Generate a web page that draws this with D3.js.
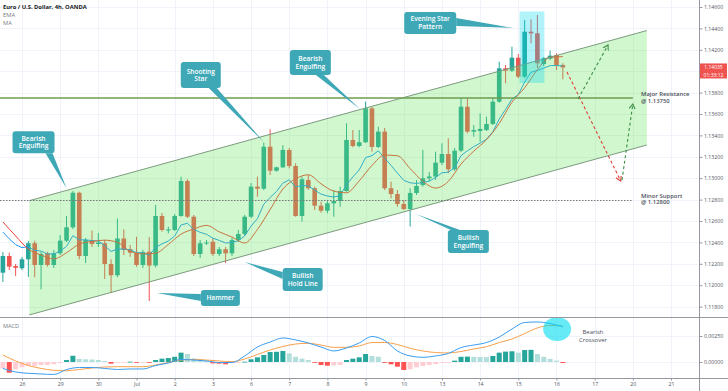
<!DOCTYPE html>
<html>
<head>
<meta charset="utf-8">
<script src="https://d3js.org/d3.v7.min.js"></script>
<style>
body{margin:0;background:#fff}
svg{display:block}
text{font-family:"Open Sans",sans-serif}
</style>
</head>
<body>
<div id="chart"></div>
<script>
// EUR/USD 4h candles (index 0 = first visible bar)
var opens=[1.12117,1.12273,1.12179,1.12158,1.12242,1.12392,1.12189,1.12298,1.12189,1.12298,
1.12416,1.12541,1.12864,1.12273,1.12422,1.12385,1.12392,1.12198,1.12093,1.12436,
1.12336,1.12304,1.12189,1.12313,1.12184,1.12647,1.12511,1.12516,1.12647,1.12974,
1.12640,1.12292,1.12390,1.12407,1.12292,1.12336,1.12298,1.12422,1.12478,1.12640,
1.12921,1.12902,1.13294,1.13070,1.13102,1.13264,1.13114,1.12647,1.12983,1.12906,
1.12743,1.12696,1.12765,1.12787,1.12880,1.13357,1.13301,1.13336,1.13653,1.13292,
1.13435,1.12906,1.12852,1.12759,1.12712,1.12862,1.12936,1.12999,1.13016,1.13145,
1.13226,1.13083,1.13257,1.13668,1.13435,1.13441,1.13450,1.13507,1.13715,1.14027,
1.14005,1.14126,1.13949,1.14369,1.14354,1.14067,1.14117,1.14151,1.14058];
var highs=[1.12310,1.12304,1.12198,1.12264,1.12413,1.12416,1.12313,1.12313,1.12329,1.12469,
1.12647,1.12880,1.12874,1.12441,1.12511,1.12488,1.12422,1.12242,1.12623,1.12521,
1.12376,1.12453,1.12329,1.12450,1.12750,1.12675,1.12547,1.12665,1.13014,1.12990,
1.12656,1.12422,1.12422,1.12441,1.12357,1.12357,1.12441,1.12516,1.12656,1.12955,
1.13014,1.13332,1.13457,1.13107,1.13310,1.13282,1.13139,1.13014,1.13030,1.12921,
1.12780,1.12796,1.12890,1.12921,1.13513,1.13450,1.13450,1.13715,1.13668,1.13481,
1.13469,1.12967,1.12890,1.12796,1.12906,1.12983,1.13264,1.13058,1.13248,1.13326,
1.13373,1.13282,1.13750,1.13747,1.13497,1.13607,1.13575,1.13747,1.14089,1.14058,
1.14229,1.14161,1.14479,1.14485,1.14525,1.14133,1.14192,1.14167,1.14074];
var lows=[1.12030,1.12142,1.12086,1.12142,1.12077,1.12074,1.11962,1.12173,1.12161,1.12282,
1.12404,1.12525,1.12242,1.12207,1.12357,1.12357,1.12058,1.11927,1.12074,1.12282,
1.12266,1.12173,1.12161,1.11852,1.12167,1.12500,1.12485,1.12506,1.12640,1.12628,
1.12273,1.12254,1.12376,1.12273,1.12273,1.12207,1.12273,1.12404,1.12460,1.12628,
1.12827,1.12890,1.13030,1.13061,1.13095,1.13092,1.12640,1.12593,1.12890,1.12703,
1.12678,1.12672,1.12640,1.12734,1.12874,1.13289,1.13289,1.13329,1.13248,1.13282,
1.12890,1.12812,1.12734,1.12703,1.12549,1.12843,1.12921,1.12974,1.12983,1.13123,
1.13046,1.13067,1.13245,1.13420,1.13388,1.13341,1.13441,1.13497,1.13706,1.13887,
1.13993,1.13936,1.13936,1.14261,1.14030,1.14049,1.14105,1.14011,1.13924];
var closes=[1.12273,1.12173,1.12163,1.12242,1.12392,1.12189,1.12292,1.12189,1.12298,1.12416,
1.12541,1.12864,1.12273,1.12422,1.12385,1.12399,1.12198,1.12093,1.12436,1.12329,
1.12304,1.12189,1.12310,1.12184,1.12647,1.12516,1.12521,1.12647,1.12974,1.12640,
1.12292,1.12392,1.12399,1.12292,1.12336,1.12298,1.12422,1.12478,1.12640,1.12921,
1.12902,1.13294,1.13070,1.13102,1.13264,1.13114,1.12647,1.12990,1.12906,1.12743,
1.12696,1.12765,1.12787,1.12880,1.13357,1.13301,1.13336,1.13653,1.13292,1.13435,
1.12906,1.12852,1.12759,1.12712,1.12862,1.12927,1.12999,1.13016,1.13145,1.13226,
1.13083,1.13257,1.13668,1.13435,1.13450,1.13460,1.13507,1.13715,1.14027,1.14005,
1.14126,1.13949,1.14369,1.14354,1.14074,1.14121,1.14145,1.14058,1.14035];

// EMA one value per bar, MA one value every 2 bars
var emaVals=[1.12497,1.12433,1.12379,1.12351,1.12360,1.12325,1.12319,1.12292,1.12293,1.12318,
1.12363,1.12463,1.12424,1.12424,1.12417,1.12413,1.12370,1.12315,1.12339,1.12337,
1.12331,1.12303,1.12304,1.12280,1.12353,1.12386,1.12413,1.12460,1.12563,1.12579,
1.12521,1.12494,1.12476,1.12439,1.12419,1.12394,1.12400,1.12416,1.12461,1.12552,
1.12622,1.12757,1.12820,1.12876,1.12953,1.12985,1.12918,1.12932,1.12927,1.12890,
1.12851,1.12834,1.12824,1.12836,1.12940,1.13012,1.13077,1.13192,1.13211,1.13256,
1.13186,1.13120,1.13048,1.12980,1.12957,1.12951,1.12961,1.12972,1.13007,1.13050,
1.13057,1.13097,1.13211,1.13256,1.13295,1.13328,1.13364,1.13434,1.13552,1.13643,
1.13739,1.13781,1.13899,1.13990,1.14007,1.14029,1.14052,1.14053,1.14050];
var maVals=[1.12591,1.12460,1.12338,1.12282,1.12246,1.12303,1.12384,1.12409,1.12421,1.12401,
1.12316,1.12293,1.12299,1.12381,1.12477,1.12525,1.12559,1.12499,1.12450,1.12394,
1.12521,1.12707,1.12899,1.12994,1.13032,1.12948,1.12879,1.12864,1.12975,1.13119,
1.13216,1.13210,1.13090,1.12971,1.12908,1.12970,1.13132,1.13253,1.13359,1.13511,
1.13710,1.13845,1.14014,1.14130,1.14136];

// MACD pane: lines every 2 bars, histogram per bar
var macdVals=[-0.00062,-0.00096,-0.00109,-0.00115,-0.00120,-0.00072,-0.00053,-0.00053,-0.00062,-0.00072,
-0.00067,-0.00067,-0.00034,-0.00010,0.00024,0.00019,0.00010,-0.00005,-0.00005,0.00058,
0.00144,0.00192,0.00231,0.00212,0.00183,0.00144,0.00106,0.00135,0.00183,0.00245,
0.00207,0.00106,0.00058,0.00045,0.00058,0.00082,0.00139,0.00163,0.00187,0.00240,
0.00317,0.00380,0.00385,0.00370,0.00339];
var signalVals=[0.00067,0.00010,-0.00034,-0.00062,-0.00080,-0.00084,-0.00072,-0.00058,-0.00048,-0.00045,
-0.00045,-0.00045,-0.00029,-0.00005,0.00019,0.00024,0.00019,0.00010,0.00003,0.00029,
0.00072,0.00115,0.00149,0.00173,0.00180,0.00163,0.00141,0.00141,0.00154,0.00187,
0.00187,0.00168,0.00132,0.00106,0.00091,0.00087,0.00101,0.00125,0.00147,0.00187,
0.00221,0.00274,0.00327,0.00351,0.00346];
var histVals=[-0.00061,-0.00103,-0.00070,-0.00051,-0.00038,-0.00038,-0.00029,-0.00029,-0.00022,-0.00010,
0.00019,0.00060,0.00029,0.00026,0.00024,0.00019,0.00010,-0.00016,-0.00005,-0.00003,
0.00003,-0.00006,-0.00002,-0.00006,0.00019,0.00032,0.00038,0.00050,0.00090,0.00077,
0.00035,0.00026,0.00013,-0.00013,-0.00016,-0.00022,-0.00010,-0.00005,0.00003,0.00026,
0.00045,0.00067,0.00096,0.00098,0.00106,0.00083,0.00050,0.00032,0.00019,-0.00006,
-0.00029,-0.00035,-0.00032,-0.00029,0.00019,0.00032,0.00045,0.00077,0.00058,0.00050,
-0.00005,-0.00022,-0.00045,-0.00077,-0.00070,-0.00051,-0.00038,-0.00029,-0.00020,-0.00010,
-0.00006,0.00013,0.00050,0.00052,0.00050,0.00048,0.00046,0.00058,0.00090,0.00100,
0.00103,0.00090,0.00115,0.00117,0.00077,0.00050,0.00030,0.00013,-0.00010];

var dayLabels=['26','29','30','Jul','2','3','6','7','8','9','10','13','14','15','16','17','20','21'];
// 1.14000 sits under the last-price tag, so it is not listed
var priceTicks=[1.118,1.120,1.122,1.124,1.126,1.128,1.130,1.132,1.134,1.136,1.138,1.142,1.144,1.146];
var macdTicks=[0,0.0025];

// drawn levels / channel / projections (bar index, price)
var levels=[1.1375,1.128];
var channelIdx=[4.15,101.2], channelTop=[1.12790,1.14380], channelBot=[1.11722,1.13310];
var starIdx=[81.2,85.1], starPrice=[1.14558,1.13890];

var W=728,H=391,axisX=699.5,mainBot=317.5,macdTop=317.5,macdBot=378.5;
var x=d3.scaleLinear().domain([0,109]).range([2.9,2.9+6.363*109]);
var y=d3.scaleLinear().domain([1.118,1.146]).range([306.6,7]);
var ym=d3.scaleLinear().domain([0,0.0025]).range([362,336]);

var up='#26a69a',down='#ef5350',call='#3fa8b7',txt='#4a4f5c';
var n=closes.length;
var dayIdx=dayLabels.map(function(d,k){return 3+6*k;});

var svg=d3.select('#chart').append('svg').attr('width',W).attr('height',H);
var defs=svg.append('defs');
defs.append('clipPath').attr('id','cm').append('rect').attr('x',0).attr('y',0).attr('width',axisX).attr('height',mainBot);
defs.append('clipPath').attr('id','cd').append('rect').attr('x',0).attr('y',macdTop).attr('width',axisX).attr('height',macdBot-macdTop);
[['ar','#e0413a'],['ag','#3f8f45']].forEach(function(m){
    defs.append('marker').attr('id',m[0]).attr('markerUnits','userSpaceOnUse')
        .attr('markerWidth',8).attr('markerHeight',8).attr('refX',5).attr('refY',3).attr('orient','auto')
        .append('path').attr('d','M0,0L5,3L0,6').attr('fill','none').attr('stroke',m[1]).attr('stroke-width',1.1);
});

// grid
var grid=svg.append('g').attr('stroke','#f0f3fa').attr('stroke-width',1);
grid.selectAll('.gh').data(priceTicks.concat([1.140])).enter().append('line')
    .attr('x1',0).attr('x2',axisX).attr('y1',d=>Math.round(y(d))+0.5).attr('y2',d=>Math.round(y(d))+0.5);
grid.selectAll('.gm').data(macdTicks).enter().append('line')
    .attr('x1',0).attr('x2',axisX).attr('y1',d=>Math.round(ym(d))+0.5).attr('y2',d=>Math.round(ym(d))+0.5);
grid.selectAll('.gv').data(dayIdx).enter().append('line')
    .attr('x1',d=>Math.round(x(d))+0.5).attr('x2',d=>Math.round(x(d))+0.5).attr('y1',0).attr('y2',macdBot);

// main pane
var main=svg.append('g').attr('clip-path','url(#cm)');
var bars=d3.range(n);
main.selectAll('.wick').data(bars).enter().append('line')
    .attr('x1',i=>x(i)).attr('x2',i=>x(i)).attr('y1',i=>y(highs[i])).attr('y2',i=>y(lows[i]))
    .attr('stroke',i=>closes[i]>=opens[i]?up:down).attr('stroke-width',1);
main.selectAll('.body').data(bars).enter().append('rect')
    .attr('x',i=>x(i)-2.3).attr('width',4.6)
    .attr('y',i=>y(Math.max(opens[i],closes[i])))
    .attr('height',i=>Math.max(1,Math.abs(y(opens[i])-y(closes[i]))))
    .attr('fill',i=>closes[i]>=opens[i]?up:down);

var lineEma=d3.line().x((d,i)=>x(i)).y(d=>y(d));
var lineMa=d3.line().x((d,i)=>x(i*2)).y(d=>y(d)).curve(d3.curveMonotoneX);
main.append('path').attr('d',lineEma(emaVals)).attr('fill','none').attr('stroke','#2196f3').attr('stroke-width',1);
main.append('path').attr('d',lineMa(maVals)).attr('fill','none').attr('stroke','#f44336').attr('stroke-width',1);

// channel overlay
var chPts=[[channelIdx[0],channelTop[0]],[channelIdx[1],channelTop[1]],[channelIdx[1],channelBot[1]],[channelIdx[0],channelBot[0]]];
main.append('path').attr('d','M'+chPts.map(p=>x(p[0])+','+y(p[1])).join('L')+'Z')
    .attr('fill','rgba(100,230,90,0.3)');
main.append('line').attr('x1',x(channelIdx[0])).attr('x2',x(channelIdx[1])).attr('y1',y(channelTop[0])).attr('y2',y(channelTop[1]))
    .attr('stroke','#7d9a7f').attr('stroke-width',1);
main.append('line').attr('x1',x(channelIdx[0])).attr('x2',x(channelIdx[1])).attr('y1',y(channelBot[0])).attr('y2',y(channelBot[1]))
    .attr('stroke','#7d9a7f').attr('stroke-width',1);

// evening star box
main.append('rect').attr('x',x(starIdx[0])).attr('y',y(starPrice[0]))
    .attr('width',x(starIdx[1])-x(starIdx[0])).attr('height',y(starPrice[1])-y(starPrice[0]))
    .attr('fill','rgba(0,215,240,0.3)');

// levels
main.append('line').attr('x1',0).attr('x2',x(99)).attr('y1',y(levels[0])).attr('y2',y(levels[0]))
    .attr('stroke','#6c9d4f').attr('stroke-width',1.5);
main.append('line').attr('x1',0).attr('x2',x(99)).attr('y1',Math.round(y(levels[1]))+0.5).attr('y2',Math.round(y(levels[1]))+0.5)
    .attr('stroke','#777').attr('stroke-width',1).attr('stroke-dasharray','1.5,1.5');

// projected path
var proj=[
    {c:'#e0413a',m:'ar',p:[[88.65,1.13993],[97.1,1.12974]]},
    {c:'#3f8f45',m:'ag',p:[[90.4,1.13741],[95.1,1.14245]]},
    {c:'#3f8f45',m:'ag',p:[[97.3,1.12983],[99.0,1.13694]]}
];
proj.forEach(function(a){
    main.append('line').attr('x1',x(a.p[0][0])).attr('y1',y(a.p[0][1])).attr('x2',x(a.p[1][0])).attr('y2',y(a.p[1][1]))
        .attr('stroke',a.c).attr('stroke-width',1.1).attr('stroke-dasharray','3,2.5').attr('marker-end','url(#'+a.m+')');
});

// callouts: tip at bar index/price, box offset from tip
var callouts=[
    {t:['Bearish','Engulfing'],i:10.0,p:1.12906,dx:-54,dy:-57,w:42,h:22,b:[[33,22],[40,22]]},
    {t:['Shooting','Star'],i:41.0,p:1.13338,dx:-83,dy:-80,w:40,h:26,b:[[28,26],[36,26]]},
    {t:['Bearish','Engulfing'],i:56.1,p:1.13647,dx:-70,dy:-59,w:41,h:25,b:[[26,25],[34,25]]},
    {t:['Evening Star','Pattern'],i:80.2,p:1.14404,dx:-109,dy:-16,w:52,h:22,b:[[52,6],[52,14]]},
    {t:['Bullish','Engulfing'],i:64.9,p:1.12665,dx:32,dy:16,w:41,h:23,b:[[3,0],[12,0]]},
    {t:['Bullish','Hold Line'],i:38.0,p:1.12217,dx:38,dy:6,w:40,h:23,b:[[0,4],[0,11]]},
    {t:['Hammer'],i:24.2,p:1.11927,dx:44,dy:-3,w:39,h:16,b:[[0,4],[0,11]]}
];
var cg=svg.append('g');
callouts.forEach(function(c){
    var tx=x(c.i),ty=y(c.p),bx=tx+c.dx,by=ty+c.dy;
    cg.append('path').attr('d','M'+(bx+c.b[0][0])+','+(by+c.b[0][1])+'L'+tx+','+ty+'L'+(bx+c.b[1][0])+','+(by+c.b[1][1])+'Z')
        .attr('fill',call);
    cg.append('rect').attr('x',bx).attr('y',by).attr('width',c.w).attr('height',c.h).attr('rx',3).attr('fill',call);
    var t=cg.append('text').attr('fill','#fff').attr('font-size',6.6).attr('font-weight',600).attr('text-anchor','middle');
    c.t.forEach(function(s,k){
        t.append('tspan').attr('x',bx+c.w/2).attr('y',by+c.h/2+(k-(c.t.length-1)/2)*7.6+2.3).text(s);
    });
});

// level labels
function twoLines(xp,yp,a,b){
    var t=svg.append('text').attr('fill',txt).attr('font-size',5.9).attr('font-weight',600);
    t.append('tspan').attr('x',xp).attr('y',yp).text(a);
    t.append('tspan').attr('x',xp).attr('y',yp+6.6).text(b);
}
twoLines(641,y(levels[0])-1.8,'Major Resistance','@ 1.13750');
twoLines(641,y(levels[1])-1.8,'Minor Support','@ 1.12800');

// MACD pane
var md=svg.append('g').attr('clip-path','url(#cd)');
md.selectAll('.hb').data(histVals).enter().append('rect')
    .attr('x',(d,i)=>x(i)-2.5).attr('width',5)
    .attr('y',d=>d>=0?ym(d):ym(0)).attr('height',d=>Math.max(0.8,Math.abs(ym(d)-ym(0))))
    .attr('fill',function(d,i){
        var pv=i>0?histVals[i-1]:d;
        if(d>=0) return d>=pv?'#26a69a':'#b2dfdb';
        return d<pv?'#ff5252':'#ffcdd2';
    });
var lineM=d3.line().x((d,i)=>x(i*2)).y(d=>ym(d)).curve(d3.curveMonotoneX);
md.append('path').attr('d',lineM(signalVals)).attr('fill','none').attr('stroke','#f7a04b').attr('stroke-width',1);
md.append('path').attr('d',lineM(macdVals)).attr('fill','none').attr('stroke','#3a9cf0').attr('stroke-width',1);
md.append('ellipse').attr('cx',x(87.1)).attr('cy',ym(0.00317)).attr('rx',14).attr('ry',12)
    .attr('fill','rgba(0,222,240,0.6)');
var bc=svg.append('text').attr('fill',txt).attr('font-size',6).attr('text-anchor','middle');
bc.append('tspan').attr('x',593).attr('y',334.3).text('Bearish');
bc.append('tspan').attr('x',593).attr('y',341.6).text('Crossover');
svg.append('text').attr('x',3).attr('y',327.5).attr('fill','#787b86').attr('font-size',5.6).text('MACD');

// pane borders
svg.append('line').attr('x1',0).attr('x2',W).attr('y1',mainBot).attr('y2',mainBot).attr('stroke','#9598a1');
svg.append('line').attr('x1',0).attr('x2',W).attr('y1',macdBot).attr('y2',macdBot).attr('stroke','#9598a1');
svg.append('line').attr('x1',axisX).attr('x2',axisX).attr('y1',0).attr('y2',H).attr('stroke','#9598a1');

// axes
var yAxis=d3.axisRight(y).tickValues(priceTicks).tickFormat(d3.format('.5f')).tickSize(3).tickPadding(1.5);
var ga=svg.append('g').attr('transform','translate('+axisX+',0)').call(yAxis);
var mAxis=d3.axisRight(ym).tickValues(macdTicks).tickFormat(d3.format('.5f')).tickSize(3).tickPadding(1.5);
var gm=svg.append('g').attr('transform','translate('+axisX+',0)').call(mAxis);
var xAxis=d3.axisBottom(x).tickValues(dayIdx).tickFormat((d,k)=>dayLabels[k]).tickSize(2).tickPadding(1.5);
var gx=svg.append('g').attr('transform','translate(0,'+macdBot+')').call(xAxis);
[ga,gm,gx].forEach(function(g){
    g.select('.domain').remove();
    g.selectAll('line').attr('stroke','#9598a1');
    g.selectAll('text').attr('fill','#50535e').attr('font-size',5.2).attr('font-family','"Open Sans",sans-serif');
});

// last price tag
var ly=y(closes[n-1]);
svg.append('rect').attr('x',700).attr('y',ly-4).attr('width',27).attr('height',15).attr('fill','#ef5350');
var tag=svg.append('text').attr('text-anchor','middle').attr('fill','#fff').attr('font-size',5);
tag.append('tspan').attr('x',713.5).attr('y',ly+1.8).text(d3.format('.5f')(closes[n-1]));
tag.append('tspan').attr('x',713.5).attr('y',ly+9.3).text('01:33:12');

// legend
svg.append('text').attr('x',3).attr('y',9.3).attr('fill','#131722').attr('font-size',5.8).attr('font-weight',700).text('Euro / U.S. Dollar, 4h, OANDA');
svg.append('text').attr('x',3).attr('y',17.2).attr('fill','#787b86').attr('font-size',5.8).text('EMA');
svg.append('text').attr('x',3).attr('y',25).attr('fill','#787b86').attr('font-size',5.8).text('MA');
</script>
</body>
</html>
